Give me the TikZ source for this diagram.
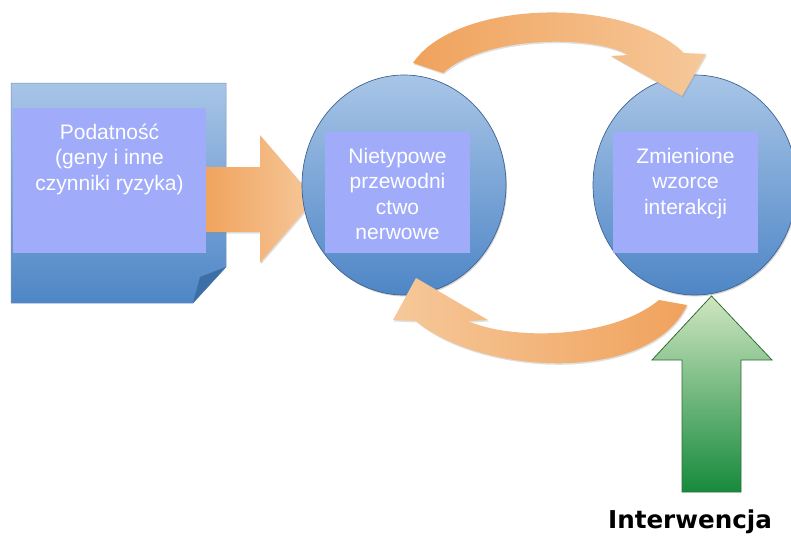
\documentclass[tikz,border=0pt]{standalone}
\usepackage{fontspec}
\setmainfont{Liberation Sans}
\newfontfamily\dejavu{DejaVu Sans}
\usetikzlibrary{shapes.geometric,shadows}
\definecolor{boxtop}{RGB}{168,197,231}
\definecolor{boxbot}{RGB}{78,134,198}
\definecolor{fold}{RGB}{62,110,166}
\definecolor{innerc}{RGB}{160,171,250}
\definecolor{ordark}{RGB}{240,162,92}
\definecolor{orlight}{RGB}{246,200,154}
\definecolor{gtop}{RGB}{208,230,194}
\definecolor{gbot}{RGB}{22,138,60}
\definecolor{gline}{RGB}{47,110,53}
\definecolor{cline}{RGB}{64,100,145}
\begin{document}
\begin{tikzpicture}[x=1pt,y=-1pt,
  labeltext/.style={text=white, align=center, inner sep=0pt, anchor=north,
    font=\fontsize{21}{25.5}\selectfont},
  innerbox/.style={fill=innerc, draw=none, inner sep=0pt, anchor=north west},
  bubble/.style={ellipse, draw=cline, line width=0.7pt, top color=boxtop,
    bottom color=boxbot, minimum width=204pt, minimum height=220pt, inner sep=0pt,
    drop shadow={opacity=0.35, shadow xshift=1pt, shadow yshift=-1.5pt}},
  orarrow/.style={draw=none,
    drop shadow={opacity=0.25, shadow xshift=1pt, shadow yshift=-1.5pt}},
  greenarrow/.style={top color=gtop, bottom color=gbot, draw=gline, line width=0.8pt}
]
\useasboundingbox (0,0) rectangle (791,535);
\clip (0,0) rectangle (791,535);

% document shape
\path[top color=boxtop, bottom color=boxbot, draw=cline!70, line width=0.5pt]
  (11,83) coordinate (docnw) -- (226,83) -- (226,267) coordinate (foldA)
  -- (193,303) coordinate (foldB) -- (11,303) -- cycle;
\fill[fold] (foldB) -- (200,277) -- (foldA) -- cycle;

% straight arrow
\path[left color=ordark, right color=orlight, orarrow]
  (200,167) -- (260,167) -- (260,135) -- (315,199) -- (260,263) -- (260,232) -- (200,232) -- cycle;

\node[innerbox, minimum width=193pt, minimum height=145pt] (podbox) at (13,108) {};
\node[labeltext] (podtxt) at (109.5,121.2) {\strut Podatność\\(geny i inne\\czynniki ryzyka)};

% circles
\node[bubble] (c1) at (404,185) {};
\node[bubble] (c2) at (695,185) {};

% top curved arrow
\path[left color=ordark, right color=orlight, orarrow]
  (413,63) .. controls (455,0) and (625,-5) .. (684,53) -- (706,54) -- (682,96)
  -- (611,56) -- (628,55) .. controls (595,35) and (485,35) .. (443,73) -- cycle;

% bottom curved arrow
\path[left color=orlight, right color=ordark, orarrow]
  (687,305) .. controls (650,385) and (480,375) .. (416,321) -- (393,320) -- (416,278)
  -- (488,320) -- (468,321) .. controls (510,340) and (610,340) .. (659,300) -- cycle;

% green arrow
\path[greenarrow] (682,492) -- (682,360) -- (652,360) -- (711.5,296) -- (772,360)
  -- (741,360) -- (741,492) -- cycle;

% inner boxes and texts
\node[innerbox, minimum width=145pt, minimum height=121pt] (r1) at (325,132) {};
\node[innerbox, minimum width=145pt, minimum height=121pt] (r2) at (613,132) {};
\node[labeltext] (t1) at (397.5,145.2) {\strut Nietypowe\\przewodni\\ctwo\\nerwowe};
\node[labeltext] (t2) at (685.5,145.2) {\strut Zmienione\\wzorce\\interakcji};

\node[font=\dejavu\bfseries\fontsize{24.6}{30}\selectfont, anchor=base, inner sep=0pt]
  (interw) at (690,528) {Interwencja};
\end{tikzpicture}
\end{document}
